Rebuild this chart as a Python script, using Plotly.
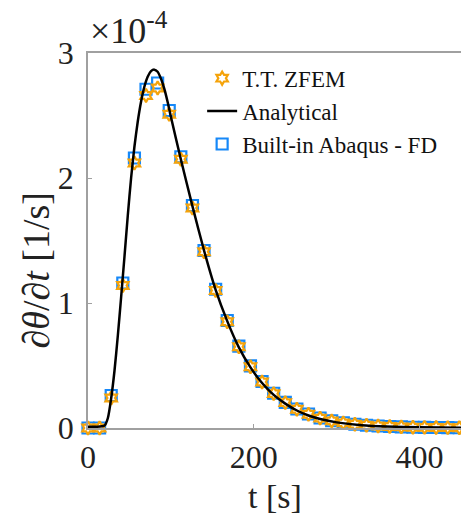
import plotly.graph_objects as go

# ---- data (values in units of 1e-4 1/s) ----
t_markers = [0, 14, 28, 42, 56, 70, 84, 98, 112, 126, 140, 154, 168, 182, 196, 210,
             224, 238, 252, 266, 280, 294, 308, 322, 336, 350, 364, 378, 392, 406,
             420, 434, 448]
fd_values = [0, 0, 0.26, 1.16, 2.16, 2.71, 2.76, 2.54, 2.17, 1.78, 1.42, 1.11, 0.86,
             0.655, 0.497, 0.372, 0.278, 0.205, 0.152, 0.112, 0.080, 0.058, 0.042,
             0.030, 0.022, 0.016, 0.012, 0.009, 0.006, 0.005, 0.004, 0.003, 0.002]
zfem_values = [0, 0, 0.24, 1.14, 2.12, 2.66, 2.72, 2.51, 2.15, 1.76, 1.41, 1.10, 0.85,
               0.65, 0.49, 0.368, 0.275, 0.203, 0.150, 0.110, 0.079, 0.057, 0.041,
               0.030, 0.022, 0.016, 0.012, 0.009, 0.006, 0.005, 0.004, 0.003, 0.002]

t_analytical = [0, 10, 20, 24, 28, 32, 36, 40, 44, 48, 52, 56, 60, 64, 68, 72, 76, 80,
                84, 88, 92, 96, 100, 112, 126, 140, 154, 168, 182, 196, 210, 224, 238,
                252, 266, 280, 300, 330, 360, 400, 450]
analytical_values = [0.01, 0.01, 0.02, 0.08, 0.24, 0.46, 0.74, 1.05, 1.37, 1.70, 2.00,
                     2.25, 2.45, 2.61, 2.73, 2.81, 2.855, 2.867, 2.85, 2.795, 2.715, 2.61,
                     2.49, 2.15, 1.775, 1.42, 1.105, 0.855, 0.645, 0.485, 0.36, 0.265,
                     0.195, 0.14, 0.10, 0.072, 0.045, 0.022, 0.012, 0.006, 0.003]

x_ticks = [0, 200, 400]
y_ticks = [0, 1, 2, 3]

SERIF = "Liberation Serif"
BLUE = "#1688F8"
ORANGE = "#F5A30A"

fig = go.Figure()
fig.add_trace(go.Scatter(
    x=t_markers, y=fd_values, mode="markers", name="Built-in Abaqus - FD",
    legendrank=3, cliponaxis=False,
    marker=dict(symbol="square-open", size=11, color=BLUE, line=dict(width=2.2, color=BLUE)),
))
fig.add_trace(go.Scatter(
    x=t_markers, y=zfem_values, mode="markers", name="T.T. ZFEM",
    legendrank=1, cliponaxis=False,
    marker=dict(symbol="hexagram-open", size=10, color=ORANGE, line=dict(width=2.2, color=ORANGE)),
))
fig.add_trace(go.Scatter(
    x=t_analytical, y=analytical_values, mode="lines", name="Analytical",
    legendrank=2, line=dict(color="black", width=2.5, shape="spline", smoothing=0.6),
))

axis_common = dict(
    showgrid=False, zeroline=False, showline=True, linecolor="#a0a0a0", linewidth=1.5,
    ticks="inside", ticklen=4, tickcolor="#a0a0a0", tickwidth=1,
    tickfont=dict(family=SERIF, size=32, color="#222"),
)

fig.update_layout(
    width=461, height=516,
    margin=dict(l=88, r=0, t=53, b=88),
    plot_bgcolor="white", paper_bgcolor="white",
    font=dict(family=SERIF),
    xaxis=dict(range=[0, 450], tickvals=x_ticks, mirror=True, ticklabelstandoff=0, **axis_common),
    yaxis=dict(range=[0, 3], tickvals=y_ticks, ticklabelstandoff=6, **axis_common),
    legend=dict(x=0.306, y=0.99, xanchor="left", yanchor="top", bgcolor="rgba(0,0,0,0)",
                font=dict(family=SERIF, size=23, color="#111"), tracegroupgap=0),
    showlegend=True,
    annotations=[
        dict(text="t [s]", xref="paper", yref="paper", x=0.5, y=-0.183, xanchor="center",
             yanchor="middle", showarrow=False, font=dict(family=SERIF, size=34, color="#222")),
        dict(text="<i>∂θ</i>/<i>∂t</i> [1/s]", xref="paper", yref="paper", x=-0.142, y=0.42,
             xanchor="center", yanchor="middle", textangle=-90, showarrow=False,
             font=dict(family=SERIF, size=38, color="#222")),
        dict(text="×10<sup>-4</sup>", xref="paper", yref="paper", x=0.0, y=1.0,
             xanchor="left", yanchor="bottom", showarrow=False,
             font=dict(family=SERIF, size=36, color="#222")),
    ],
)

fig.write_html("out.html")
